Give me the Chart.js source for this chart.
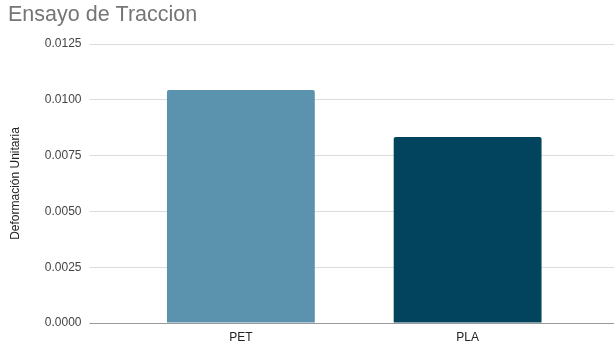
<!DOCTYPE html>
<html lang="es">
<head>
  <meta charset="UTF-8">
  <title>Ensayo de Traccion</title>
  <style>
    body { margin: 0; background: #fff; }
    .chart-container { width: 614px; height: 343px; }
  </style>
  <script src="https://cdn.jsdelivr.net/npm/chart.js"></script>
</head>
<body>
  <div class="chart-container">
    <canvas id="tractionChart"></canvas>
  </div>

  <script>
    // Data
    const materials = ['PET', 'PLA'];
    const strainValues = [0.01044, 0.00833];
    const barColors = ['#5b92ae', '#02445e'];
    const yMin = 0, yMax = 0.0125, yStep = 0.0025;

    // zero line darker than the other grid lines
    const gridColor = ctx => (ctx.tick && ctx.tick.value === 0) ? '#999999' : '#dcdcdc';

    new Chart(document.getElementById('tractionChart'), {
      type: 'bar',
      data: {
        labels: materials,
        datasets: [{
          data: strainValues,
          backgroundColor: barColors,
          borderRadius: 2,
          borderSkipped: 'bottom',
          barPercentage: 0.652,
          categoryPercentage: 1
        }]
      },
      options: {
        responsive: true,
        maintainAspectRatio: false,
        animation: false,
        layout: { padding: { left: 8, right: 0, top: 0, bottom: 0 } },
        plugins: {
          legend: { display: false },
          tooltip: { enabled: false },
          title: {
            display: true,
            text: 'Ensayo de Traccion',
            align: 'start',
            color: '#757575',
            font: { family: 'Arial', size: 21.5, weight: 'normal' },
            padding: { top: 2.5, bottom: 15.7 }
          }
        },
        scales: {
          x: {
            grid: { display: false, drawTicks: false, tickLength: 0 },
            border: { display: false },
            ticks: { color: '#222', font: { family: 'Arial', size: 12 }, padding: 7 },
            afterFit: s => { s.height = 20; }
          },
          y: {
            position: 'left',
            min: yMin, max: yMax,
            border: { display: false },
            grid: { color: gridColor, tickLength: 38 },
            ticks: {
              stepSize: yStep,
              color: '#444',
              padding: 8,
              font: { family: 'Arial', size: 12 },
              callback: v => v.toFixed(4)
            },
            title: {
              display: true,
              text: 'Deformación Unitaria',
              color: '#222',
              font: { family: 'Arial', size: 12 },
              padding: { top: 0, bottom: 4 }
            },
            afterFit: s => { s.width = 119.5; }
          },
          yRight: {
            position: 'right',
            min: yMin, max: yMax,
            border: { display: false },
            grid: { color: gridColor, tickLength: 33, drawOnChartArea: false },
            ticks: { stepSize: yStep, display: false },
            afterFit: s => { s.width = 33; }
          }
        }
      }
    });
  </script>
</body>
</html>
